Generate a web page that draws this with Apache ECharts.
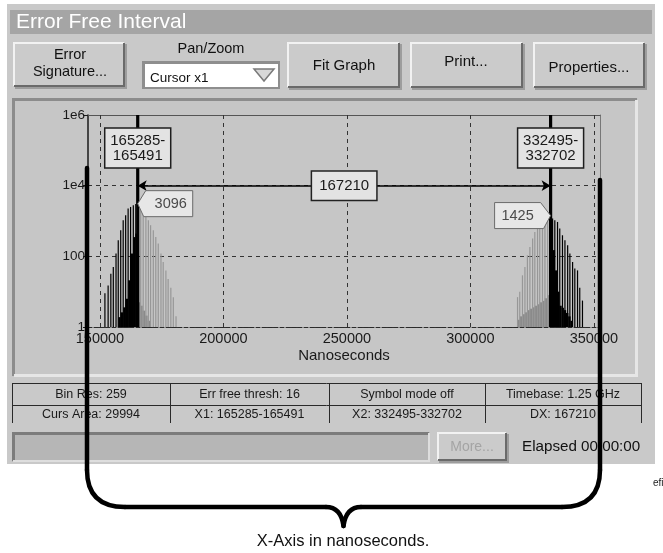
<!DOCTYPE html>
<html><head><meta charset="utf-8">
<script src="https://cdn.jsdelivr.net/npm/echarts@6/dist/echarts.min.js"></script>
<style>html,body{margin:0;padding:0;background:#fff}#c{width:663px;height:553px}</style>
</head><body><div id="c"></div>
<script>
// ---- data ----
const xTickValues = [150000, 200000, 250000, 300000, 350000];
const yTickLabels = ['1', '100', '1e4', '1e6'];

const leftMajorX = [152000, 153300, 154400, 155400, 156500, 157400, 158400, 159400, 160400, 161400, 162400, 163500, 164500, 165285, 166500, 167500, 168600, 169600, 170500, 171600, 172600, 173600, 174700, 175600, 176700, 177600, 178700, 179700, 180800];
const leftMajorY = [9, 15, 32, 50, 120, 285, 550, 1050, 1450, 2250, 2500, 2800, 3050, 3096, 2500, 2000, 1300, 1050, 760, 550, 350, 230, 120, 69, 40, 23, 13, 7, 2];
const leftFillX = [157900, 158900, 159900, 160900, 161900, 162900, 163900, 164800, 165800, 166800, 167800, 168800, 169800];
const leftFillY = [1.9, 2.6, 3.6, 6.3, 21, 120, 350, 440, 5, 4, 2.9, 2.1, 1.5];

const rightMajorX = [319100, 320000, 321100, 322100, 323100, 324100, 325200, 326100, 327200, 328100, 329200, 330200, 331300, 332495, 333300, 334200, 335300, 336200, 337300, 338300, 339400, 340300, 341400, 342300, 343400, 344300, 345400];
const rightMajorY = [7, 10, 29, 50, 107, 183, 320, 490, 680, 850, 1050, 1180, 1300, 1425, 1180, 1050, 940, 610, 395, 285, 205, 120, 69, 45, 40, 13, 5.6];
const rightFillX = [319600, 320600, 321600, 322600, 323600, 324600, 325600, 326600, 327600, 328600, 329600, 330600, 331600, 332900, 333800, 334700, 335600, 336500, 337400, 338300, 339200, 340100, 341000];
const rightFillY = [1.6, 2, 2.3, 2.6, 3, 3.3, 3.6, 4, 4.4, 5, 5.5, 6.5, 8, 300, 150, 40, 10, 4, 3.5, 3, 2.5, 2, 1.5];

const cursorX = [165285, 332495];
const cursorLabels = ['165285-\n165491', '332495-\n332702'];
const peakCounts = [3096, 1425];
const dxValue = 167210;
const tableRow1 = ['Bin Res: 259', 'Err free thresh: 16', 'Symbol mode off', 'Timebase: 1.25 GHz'];
const tableRow2 = ['Curs Area: 29994', 'X1: 165285-165491', 'X2: 332495-332702', 'DX: 167210'];

// ---- chart ----
const FONT = "'Liberation Sans', Arial, sans-serif";
const Y_MIN = 1, Y_MAX = 1e6;
const chart = echarts.init(document.getElementById('c'), null, {renderer: 'canvas'});

function majorRender(cursor, blackLeft) {
  return function (params, api) {
    const x = api.value(0), y = api.value(1);
    const top = api.coord([x, y]), base = api.coord([x, Y_MIN]);
    const black = blackLeft ? x <= cursor : x >= cursor;
    return {type: 'rect', shape: {x: top[0] - 0.6, y: top[1], width: 1.2, height: base[1] - top[1]},
      style: {fill: black ? '#000' : '#979797'}};
  };
}
function fillRender(cursor, blackLeft) {
  return function (params, api) {
    const x = api.value(0), y = api.value(1);
    const a = api.coord([x - 500, y]), b = api.coord([x + 500, y]), base = api.coord([x, Y_MIN]);
    const black = blackLeft ? x <= cursor : x >= cursor;
    return {type: 'rect', shape: {x: a[0], y: a[1], width: b[0] - a[0], height: base[1] - a[1]},
      style: {fill: black ? '#000' : '#8a8a8a'}};
  };
}
const pairs = (xs, ys) => xs.map((x, i) => [x, ys[i]]);

function btn(x, y, w, h) {
  return [
    {type: 'rect', shape: {x: x + 2, y: y + 2, width: w, height: h}, style: {fill: '#9d9d9d'}, z: -9},
    {type: 'rect', shape: {x: x, y: y, width: w, height: h}, style: {fill: '#cbcbcb'}, z: -8},
    {type: 'polyline', shape: {points: [[x + 1, y + h - 1], [x + 1, y + 1], [x + w - 1, y + 1]]}, style: {stroke: '#f2f2f2', lineWidth: 2, fill: null}, z: -7},
    {type: 'polyline', shape: {points: [[x + w - 1, y + 1], [x + w - 1, y + h - 1], [x + 1, y + h - 1]]}, style: {stroke: '#6a6a6a', lineWidth: 2, fill: null}, z: -7}
  ];
}
function txt(t, x, y, size, color, align) {
  return {type: 'text', z: -5, style: {text: t, x: x, y: y, align: align || 'center', verticalAlign: 'middle',
    fontSize: size, fontFamily: FONT, fill: color || '#111'}};
}

const G = [];
// window
G.push({type: 'rect', shape: {x: 7, y: 4, width: 648, height: 460}, style: {fill: '#c9c9c9'}, z: -10});
G.push({type: 'rect', shape: {x: 10, y: 10, width: 642, height: 24}, style: {fill: '#a5a5a5'}, z: -9});
G.push(txt('Error Free Interval', 16, 22.5, 21, '#ffffff', 'left'));
// buttons
G.push(...btn(13, 42, 112, 45));
G.push(txt('Error', 70, 55, 14.5), txt('Signature...', 70, 72, 14.5));
G.push(txt('Pan/Zoom', 211, 49, 14.5));
G.push({type: 'rect', shape: {x: 142, y: 61, width: 138, height: 28}, style: {fill: '#8e8e8e'}, z: -8});
G.push({type: 'rect', shape: {x: 145, y: 64, width: 133, height: 23}, style: {fill: '#ffffff'}, z: -7});
G.push({type: 'polygon', shape: {points: [[254, 69], [274, 69], [264, 81]]}, style: {fill: '#d8d8d8', stroke: '#7a7a7a', lineWidth: 1.5}, z: -6});
G.push(txt('Cursor x1', 150, 78, 13.5, '#111', 'left'));
G.push(...btn(287, 42, 113, 46)); G.push(txt('Fit Graph', 344, 66, 15));
G.push(...btn(410, 42, 113, 46)); G.push(txt('Print...', 466, 62, 15));
G.push(...btn(533, 42, 112, 46)); G.push(txt('Properties...', 589, 68, 15));
// plot panel
G.push({type: 'rect', shape: {x: 12, y: 98, width: 626, height: 279}, style: {fill: '#c6c6c6'}, z: -9});
G.push({type: 'polyline', shape: {points: [[13.5, 376], [13.5, 99.5], [637, 99.5]]}, style: {stroke: '#8c8c8c', lineWidth: 3, fill: null}, z: -8});
G.push({type: 'polyline', shape: {points: [[636.5, 100], [636.5, 375.5], [14, 375.5]]}, style: {stroke: '#e6e6e6', lineWidth: 3, fill: null}, z: -8});
// table
const cols = [12, 170, 329, 485, 641];
G.push({type: 'line', shape: {x1: 12, y1: 383.5, x2: 641, y2: 383.5}, style: {stroke: '#2a2a2a', lineWidth: 1}, z: -6});
G.push({type: 'line', shape: {x1: 12, y1: 405.5, x2: 641, y2: 405.5}, style: {stroke: '#2a2a2a', lineWidth: 1}, z: -6});
cols.forEach(c => G.push({type: 'line', shape: {x1: c + 0.5, y1: 383, x2: c + 0.5, y2: 423}, style: {stroke: '#2a2a2a', lineWidth: 1}, z: -6}));
tableRow1.forEach((t, i) => G.push(txt(t, (cols[i] + cols[i + 1]) / 2, 395, 12.5, '#1a1a1a')));
tableRow2.forEach((t, i) => G.push(txt(t, (cols[i] + cols[i + 1]) / 2, 415, 12.5, '#1a1a1a')));
// progress bar
G.push({type: 'rect', shape: {x: 12, y: 432, width: 418, height: 30}, style: {fill: '#b6b6b6'}, z: -8});
G.push({type: 'polyline', shape: {points: [[13.5, 461], [13.5, 433.5], [429, 433.5]]}, style: {stroke: '#7c7c7c', lineWidth: 3, fill: null}, z: -7});
G.push({type: 'polyline', shape: {points: [[429, 433], [429, 461], [13, 461]]}, style: {stroke: '#dedede', lineWidth: 2, fill: null}, z: -7});
G.push(...btn(437, 432, 70, 29)); G.push(txt('More...', 472, 447, 14, '#a4a4a4'));
G.push(txt('Elapsed 00:00:00', 522, 447, 15.2, '#111', 'left'));
// bracket
const BK = {stroke: '#000', lineWidth: 4.5, fill: null, lineCap: 'round'};
G.push({type: 'polyline', shape: {points: [[87, 168], [87, 470]]}, style: BK, z: 100});
G.push({type: 'bezierCurve', shape: {x1: 87, y1: 470, cpx1: 87, cpy1: 507, x2: 125, y2: 507}, style: BK, z: 100});
G.push({type: 'polyline', shape: {points: [[125, 507], [326, 507]]}, style: BK, z: 100});
G.push({type: 'bezierCurve', shape: {x1: 326, y1: 507, cpx1: 341, cpy1: 507, x2: 343.5, y2: 526}, style: BK, z: 100});
G.push({type: 'bezierCurve', shape: {x1: 343.5, y1: 526, cpx1: 346, cpy1: 507, x2: 361, y2: 507}, style: BK, z: 100});
G.push({type: 'polyline', shape: {points: [[361, 507], [562, 507]]}, style: BK, z: 100});
G.push({type: 'bezierCurve', shape: {x1: 562, y1: 507, cpx1: 600, cpy1: 507, x2: 600, y2: 470}, style: BK, z: 100});
G.push({type: 'polyline', shape: {points: [[600, 470], [600, 180]]}, style: BK, z: 100});
G.push({type: 'text', z: 100, style: {text: 'X-Axis in nanoseconds.', x: 343, y: 541, align: 'center', verticalAlign: 'middle', fontSize: 16.5, fontFamily: FONT, fill: '#111'}});
G.push({type: 'text', z: 100, style: {text: 'efi', x: 653, y: 483, align: 'left', verticalAlign: 'middle', fontSize: 10, fontFamily: FONT, fill: '#222'}});

const option = {
  animation: false,
  backgroundColor: '#ffffff',
  textStyle: {fontFamily: FONT},
  graphic: {elements: G},
  grid: {left: 88, right: 63, top: 115, bottom: 226, containLabel: false, outerBoundsMode: 'none'},
  xAxis: [{
    type: 'value', min: 145150, max: 352500, position: 'bottom',
    axisLine: {show: true, lineStyle: {color: '#2a2a2a', type: 'dashed', width: 1}},
    axisTick: {show: false},
    axisLabel: {customValues: xTickValues, formatter: v => String(v), fontSize: 14.5, color: '#1a1a1a', margin: 4, fontFamily: FONT},
    splitLine: {show: false},
    name: 'Nanoseconds', nameLocation: 'middle', nameGap: 21,
    nameTextStyle: {fontSize: 15, color: '#1a1a1a', fontFamily: FONT}
  }, {
    type: 'value', min: 145150, max: 352500, position: 'top',
    axisLine: {show: true, lineStyle: {color: '#555', width: 1}},
    axisTick: {show: false}, axisLabel: {show: false}, splitLine: {show: false}
  }],
  yAxis: [{
    type: 'log', logBase: 10, min: Y_MIN, max: Y_MAX, interval: 2,
    axisLine: {show: true, lineStyle: {color: '#1a1a1a', width: 1.5}},
    axisTick: {show: true, length: 5, lineStyle: {color: '#1a1a1a'}},
    axisLabel: {formatter: v => yTickLabels[Math.round(Math.log10(v) / 2)] || '', fontSize: 13.5, color: '#1a1a1a', margin: 3, fontFamily: FONT},
    splitLine: {show: true, lineStyle: {color: '#333', type: [4, 4], width: 1}},
    minorTick: {show: false}
  }, {
    type: 'log', logBase: 10, min: Y_MIN, max: Y_MAX, position: 'right',
    axisLine: {show: true, lineStyle: {color: '#777', width: 1}},
    axisTick: {show: false}, axisLabel: {show: false}, splitLine: {show: false}
  }],
  series: [
    {type: 'line', data: [], silent: true, z: 1,
      markLine: {silent: true, z: 1, symbol: 'none', label: {show: false}, animation: false,
        lineStyle: {color: '#333', type: [4, 4], width: 1},
        emphasis: {disabled: true},
        data: xTickValues.map(v => ({xAxis: v}))}},
    {type: 'custom', z: 3, silent: true, renderItem: fillRender(cursorX[0], true), encode: {x: 0, y: 1}, data: pairs(leftFillX, leftFillY)},
    {type: 'custom', z: 3, silent: true, renderItem: majorRender(cursorX[0], true), encode: {x: 0, y: 1}, data: pairs(leftMajorX, leftMajorY)},
    {type: 'custom', z: 3, silent: true, renderItem: fillRender(cursorX[1], false), encode: {x: 0, y: 1}, data: pairs(rightFillX, rightFillY)},
    {type: 'custom', z: 3, silent: true, renderItem: majorRender(cursorX[1], false), encode: {x: 0, y: 1}, data: pairs(rightMajorX, rightMajorY)},
    {type: 'custom', z: 4, silent: true, encode: {x: 0},
      data: cursorX.map((x, i) => [x, i]),
      renderItem: function (params, api) {
        const x = api.value(0), i = api.value(1);
        const top = api.coord([x, Y_MAX]), base = api.coord([x, Y_MIN]);
        const cx = top[0];
        return {type: 'group', children: [
          {type: 'rect', shape: {x: cx - 1.6, y: top[1], width: 3.2, height: base[1] - top[1]}, style: {fill: '#000'}},
          {type: 'rect', shape: {x: cx - 33, y: top[1] + 13, width: 66, height: 40}, style: {fill: '#e3e3e3', stroke: '#1e1e1e', lineWidth: 1.5}},
          {type: 'text', style: {text: cursorLabels[i], x: cx, y: top[1] + 33.5, align: 'center', verticalAlign: 'middle',
            fontSize: 15, lineHeight: 15.5, fontFamily: FONT, fill: '#1a1a1a'}}
        ]};
      },
      markLine: {silent: true, z: 5, symbol: ['arrow', 'arrow'], symbolSize: [8, 9], animation: false,
        lineStyle: {color: '#000', width: 1.5, type: 'solid'},
        emphasis: {disabled: true},
        label: {show: true, position: 'insideMiddle', distance: 0, formatter: String(dxValue), color: '#1a1a1a', fontSize: 15, fontFamily: FONT,
          backgroundColor: '#e3e3e3', borderColor: '#222', borderWidth: 1.5, padding: [7, 7, 6, 7]},
        data: [[{coord: [cursorX[0], 1e4]}, {coord: [cursorX[1], 1e4]}]]}
    },
    {type: 'custom', z: 6, silent: true, encode: {x: 0, y: 1},
      data: cursorX.map((x, i) => [x, peakCounts[i]]),
      renderItem: function (params, api) {
        const p = api.coord([api.value(0), api.value(1)]);
        const dir = params.dataIndex === 0 ? 1 : -1;
        const tx = p[0], ty = p[1];
        const pts = dir > 0
          ? [[tx, ty], [tx + 8, ty - 13], [tx + 55, ty - 13], [tx + 55, ty + 13], [tx + 6, ty + 13]]
          : [[tx, ty], [tx - 10, ty - 13], [tx - 56, ty - 13], [tx - 56, ty + 13], [tx - 7, ty + 13]];
        return {type: 'group', children: [
          {type: 'polygon', shape: {points: pts}, style: {fill: '#e7e7e7', stroke: '#6a6a6a', lineWidth: 1}},
          {type: 'text', style: {text: String(api.value(1)), x: tx + dir * 33, y: ty, align: 'center', verticalAlign: 'middle',
            fontSize: 14.5, fontFamily: FONT, fill: '#4a4a4a'}}
        ]};
      }
    }
  ]
};
chart.setOption(option);
</script></body></html>
